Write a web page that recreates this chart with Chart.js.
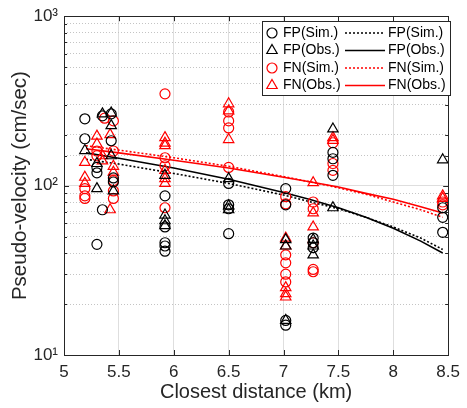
<!DOCTYPE html>
<html>
<head>
<meta charset="utf-8">
<script src="https://cdn.jsdelivr.net/npm/chart.js@4.4.0/dist/chart.umd.min.js"></script>
<style>
  body { margin: 0; background: #fff; }
  #wrap { width: 467px; height: 408px; }
</style>
</head>
<body>
<div id="wrap"><canvas id="pv" width="467" height="408"></canvas></div>
<script>
// scatter data (distance km, pseudo-velocity cm/sec)
var fpSimDist = [5.19, 5.19, 5.30, 5.30, 5.30, 5.35, 5.35, 5.43, 5.43, 5.45, 5.45, 5.92, 5.92, 5.92, 5.92, 5.92, 6.5, 6.5, 6.5, 6.5, 7.02, 7.02, 7.02, 7.02, 7.27, 7.27, 7.27, 7.45, 7.45, 7.45, 8.45, 8.45, 8.45];
var fpSimVal  = [248, 189, 128, 119, 45, 72, 258, 265, 184, 111, 105, 87, 57, 46, 44, 41, 103, 77, 73, 52, 96, 77, 16, 15, 49, 46, 43, 157, 144, 115, 74, 65, 53];

var fpObsDist = [5.19, 5.30, 5.30, 5.35, 5.43, 5.43, 5.43, 5.45, 5.92, 5.92, 5.92, 5.92, 6.5, 6.5, 6.5, 7.02, 7.02, 7.02, 7.27, 7.27, 7.27, 7.45, 7.45, 8.45];
var fpObsVal  = [161, 96, 135, 265, 268, 226, 150, 93, 115, 67, 62, 58, 110, 76, 72, 48, 44, 16, 48, 44, 39, 216, 74, 142];

var fnSimDist = [5.19, 5.19, 5.19, 5.30, 5.30, 5.37, 5.45, 5.45, 5.45, 5.45, 5.45, 5.92, 5.92, 5.92, 5.92, 6.5, 6.5, 6.5, 6.5, 7.02, 7.02, 7.02, 7.02, 7.02, 7.02, 7.27, 7.27, 7.27, 7.27, 7.27, 7.45, 7.45, 7.45, 8.45, 8.45];
var fnSimVal  = [96, 87, 84, 160, 150, 250, 241, 160, 107, 93, 84, 348, 146, 131, 74, 272, 241, 219, 128, 86, 78, 39, 35, 30, 27, 80, 73, 46, 32, 31, 179, 135, 123, 80, 77];

var fnObsDist = [5.19, 5.19, 5.19, 5.30, 5.30, 5.35, 5.35, 5.42, 5.42, 5.45, 5.45, 5.92, 5.92, 5.92, 5.92, 5.92, 5.92, 6.5, 6.5, 6.5, 7.02, 7.02, 7.02, 7.02, 7.02, 7.27, 7.27, 7.27, 7.45, 7.45, 8.45, 8.45];
var fnObsVal  = [137, 112, 103, 196, 176, 150, 140, 72, 200, 130, 120, 192, 178, 172, 123, 110, 103, 304, 276, 187, 49, 44, 25, 23, 22, 104, 69, 57, 192, 185, 87, 84];

// fitted lines, values
var fitDist   = [5.2, 5.5, 6, 6.5, 7, 7.25, 7.5, 7.75, 8, 8.25, 8.45];
var fpSimFit  = [143, 134, 118, 103, 88, 80, 73, 65, 57, 49, 42];
var fpObsFit  = [156, 145, 127, 109, 91, 82.5, 74, 65, 56, 47, 40];
var fnSimFit  = [172, 162, 146, 130, 113, 105, 97, 89, 80, 72, 65];
var fnObsFit  = [165, 156, 141, 127, 112, 105, 98, 90, 83, 75, 69];

var xTicks = [5, 5.5, 6, 6.5, 7, 7.5, 8, 8.5];
var supers = {1: '\u00b9', 2: '\u00b2', 3: '\u00b3'};

function pts(xs, ys) {
    return xs.map(function(x, i) { return {x: x, y: ys[i]}; });
}

function isDecade(v) {
    var l = Math.log10(v);
    return Math.abs(l - Math.round(l)) < 1e-9;
}

var RED = '#ff0000';
var BLK = '#000000';

function scatterSet(label, xs, ys, color, style) {
    return {
        type: 'scatter', label: label, data: pts(xs, ys),
        pointStyle: style, pointRadius: style == 'triangle' ? 6 : 5,
        borderColor: color, backgroundColor: 'rgba(0,0,0,0)', borderWidth: 1.2,
        showLine: false
    };
}

function lineSet(label, ys, color, dash) {
    return {
        type: 'line', label: label, data: pts(fitDist, ys),
        borderColor: color, borderWidth: 1.6, borderDash: dash,
        pointRadius: 0, fill: false, tension: 0
    };
}

// MATLAB style box, inward ticks and the legend box
var framePlugin = {
    id: 'frame',
    afterDraw: function(chart) {
        var ctx = chart.ctx, a = chart.chartArea;
        var xs = chart.scales.x, ys = chart.scales.y;
        ctx.save();
        ctx.strokeStyle = '#262626';
        ctx.lineWidth = 1;
        ctx.beginPath();
        ys.ticks.forEach(function(t) {
            var y = Math.round(ys.getPixelForValue(t.value)) + 0.5;
            var len = isDecade(t.value) ? 5 : 3;
            ctx.moveTo(a.left, y); ctx.lineTo(a.left + len, y);
            ctx.moveTo(a.right, y); ctx.lineTo(a.right - len, y);
        });
        xTicks.forEach(function(v) {
            var x = Math.round(xs.getPixelForValue(v)) + 0.5;
            ctx.moveTo(x, a.bottom); ctx.lineTo(x, a.bottom - 5);
            ctx.moveTo(x, a.top); ctx.lineTo(x, a.top + 5);
        });
        ctx.stroke();
        ctx.strokeRect(Math.round(a.left) + 0.5, Math.round(a.top) + 0.5,
                       Math.round(a.right - a.left), Math.round(a.bottom - a.top));

        // legend
        var L = 262, T = 21, R = 450, B = 95;
        ctx.fillStyle = '#fff';
        ctx.fillRect(L, T, R - L, B - T);
        ctx.strokeStyle = '#262626';
        ctx.strokeRect(L + 0.5, T + 0.5, R - L, B - T);
        var rows = [
            ['FP(Sim.)', BLK, 'circle', [2, 2]],
            ['FP(Obs.)', BLK, 'triangle', []],
            ['FN(Sim.)', RED, 'circle', [2, 2]],
            ['FN(Obs.)', RED, 'triangle', []]
        ];
        ctx.font = '14px "Liberation Sans", Arial, sans-serif';
        ctx.textBaseline = 'middle';
        rows.forEach(function(r, i) {
            var y = T + 12 + i * 17.5;
            ctx.strokeStyle = r[1];
            ctx.fillStyle = 'rgba(0,0,0,0)';
            ctx.lineWidth = 1.2;
            ctx.setLineDash([]);
            Chart.helpers.drawPoint(ctx, {pointStyle: r[2], radius: r[2] == 'triangle' ? 6 : 5, borderWidth: 1.2}, 272, y);
            ctx.fillStyle = '#000';
            ctx.fillText(r[0], 283, y);
            ctx.beginPath();
            ctx.lineWidth = 1.6;
            ctx.setLineDash(r[3]);
            ctx.moveTo(345, y); ctx.lineTo(385, y);
            ctx.stroke();
            ctx.setLineDash([]);
            ctx.fillText(r[0], 388, y);
        });
        ctx.restore();
    }
};

var fontFam = '"Liberation Sans", Arial, sans-serif';

new Chart(document.getElementById('pv'), {
    data: {
        datasets: [
            scatterSet('FP(Sim.)', fpSimDist, fpSimVal, BLK, 'circle'),
            scatterSet('FP(Obs.)', fpObsDist, fpObsVal, BLK, 'triangle'),
            scatterSet('FN(Sim.)', fnSimDist, fnSimVal, RED, 'circle'),
            scatterSet('FN(Obs.)', fnObsDist, fnObsVal, RED, 'triangle'),
            lineSet('FP(Sim.) fit', fpSimFit, BLK, [2, 2]),
            lineSet('FP(Obs.) fit', fpObsFit, BLK, []),
            lineSet('FN(Sim.) fit', fnSimFit, RED, [2, 2]),
            lineSet('FN(Obs.) fit', fnObsFit, RED, [])
        ]
    },
    options: {
        responsive: false,
        animation: false,
        layout: { padding: { left: 0, right: 13, top: 15, bottom: 0 } },
        plugins: { legend: { display: false }, tooltip: { enabled: false } },
        scales: {
            x: {
                type: 'linear', min: 5, max: 8.5,
                afterBuildTicks: function(s) { s.ticks = xTicks.map(function(v) { return {value: v}; }); },
                afterFit: function(s) { s.height = 53; },
                grid: { color: '#dedede', lineWidth: 1, drawTicks: false },
                border: { display: false },
                ticks: {
                    color: '#262626', padding: 7, font: { family: fontFam, size: 17 },
                    callback: function(v) { return String(v); }
                },
                title: { display: true, text: 'Closest distance (km)', color: '#262626', padding: { top: 0, bottom: 4 }, font: { family: fontFam, size: 20 } }
            },
            y: {
                type: 'logarithmic', min: 10, max: 1000,
                afterFit: function(s) { s.width = 64; },
                grid: {
                    drawTicks: false, lineWidth: 1,
                    color: function(c) { return isDecade(c.tick.value) ? '#dedede' : '#c4c4c4'; }
                },
                border: { display: false, dash: function(c) { return (c.tick && !isDecade(c.tick.value)) ? [1, 2] : []; } },
                ticks: {
                    autoSkip: false, color: '#262626', padding: 6,
                    font: { family: fontFam, size: 17 },
                    callback: function(v) {
                        if (!isDecade(v)) return '';
                        return '10' + supers[Math.round(Math.log10(v))];
                    }
                },
                title: { display: true, text: 'Pseudo-velocity (cm/sec)', color: '#262626', padding: { top: 8, bottom: 0 }, font: { family: fontFam, size: 20.5 } }
            }
        }
    },
    plugins: [framePlugin]
});
</script>
</body>
</html>
